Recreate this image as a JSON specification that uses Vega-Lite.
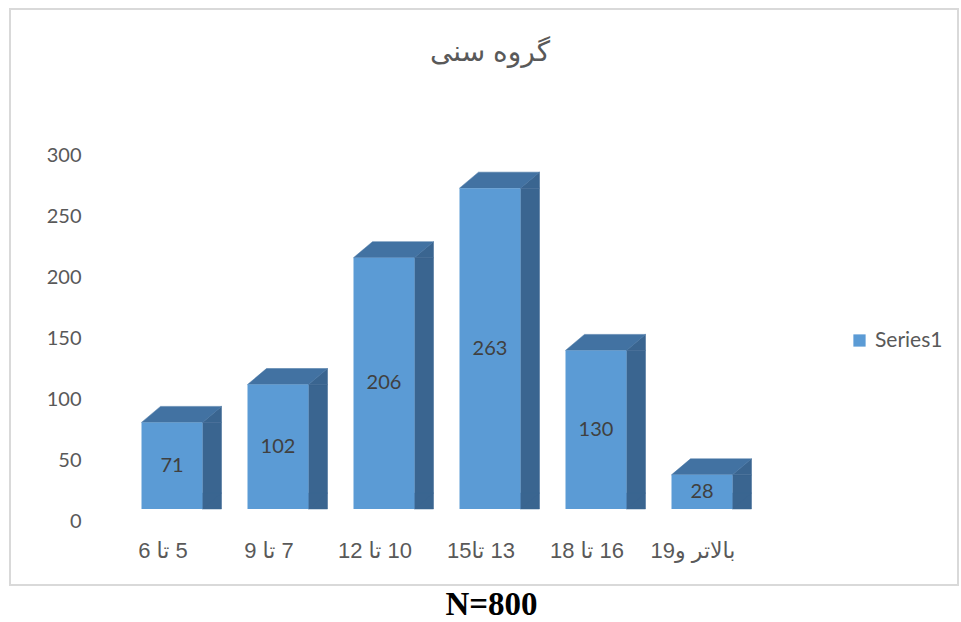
{
  "$schema": "https://vega.github.io/schema/vega-lite/v6.json",
  "width": 948,
  "height": 576,
  "autosize": {"type": "none"},
  "padding": {"left": 10, "top": 9, "right": 3, "bottom": 37},
  "background": "white",
  "view": {"stroke": "#d9d9d9", "strokeWidth": 2},
  "title": {
    "text": "گروه سنی",
    "font": "Liberation Sans, DejaVu Sans",
    "fontSize": 28,
    "fontWeight": "normal",
    "color": "#595959",
    "anchor": "middle",
    "baseline": "middle",
    "offset": -72,
    "dx": 6
  },
  "data": {
    "values": [
      {"group": "\u202B5 تا 6\u202C", "count": 71, "series": "Series1"},
      {"group": "\u202B7 تا 9\u202C", "count": 102, "series": "Series1"},
      {"group": "\u202B10 تا 12\u202C", "count": 206, "series": "Series1"},
      {"group": "\u202B13 تا15\u202C", "count": 263, "series": "Series1"},
      {"group": "\u202B16 تا 18\u202C", "count": 130, "series": "Series1"},
      {"group": "\u202Bبالاتر و19\u202C", "count": 28, "series": "Series1"}
    ]
  },
  "encoding": {
    "x": {
      "field": "group",
      "type": "nominal",
      "sort": null,
      "scale": {"range": [109, 745], "paddingInner": 0.4245, "paddingOuter": 0.2123},
      "axis": {
        "title": "N=800",
        "titleFont": "Liberation Serif",
        "titleFontSize": 33,
        "titleFontWeight": "bold",
        "titleColor": "#000000",
        "titleX": 481,
        "titleY": 71,
        "titleAlign": "center",
        "titleBaseline": "middle",
        "labelFont": "Liberation Sans, DejaVu Sans",
        "labelFontSize": 22,
        "labelColor": "#595959",
        "labelAngle": 0,
        "labelPadding": 7,
        "labelOffset": -9,
        "labelOverlap": false,
        "labelLimit": 300,
        "domain": false,
        "ticks": false,
        "grid": false,
        "offset": -51.5
      }
    }
  },
  "layer": [
    {
      "encoding": {
        "y": {
          "field": "count",
          "type": "quantitative",
          "scale": {"domain": [0, 300], "range": [512, 146], "nice": false, "zero": true},
          "axis": {
            "values": [0, 50, 100, 150, 200, 250, 300],
            "title": null,
            "domain": false,
            "ticks": false,
            "grid": false,
            "labelFont": "Lato",
            "labelFontSize": 20,
            "labelColor": "#595959",
            "labelPadding": 5,
            "offset": -76
          }
        }
      },
      "layer": [
        {
          "mark": {"type": "bar", "width": 19, "xOffset": 40, "yOffset": -12, "y2Offset": -28, "color": "#3a6590", "stroke": "#3a6590", "strokeWidth": 0.5}
        },
        {
          "mark": {"type": "point", "shape": "M 0.61 -0.24 L 0.99 -0.56 L 0.99 -0.24 Z", "size": 10000, "filled": true, "opacity": 1, "color": "#3a6590", "stroke": "#3a6590", "strokeWidth": 0.5}
        },
        {
          "mark": {"type": "point", "shape": "M 0.61 -0.56 L 0.61 -0.24 L 0.99 -0.56 Z", "size": 10000, "filled": true, "opacity": 1, "color": "#3a6590", "stroke": "#3a6590", "strokeWidth": 0.5},
          "encoding": {"y": {"datum": 0, "type": "quantitative"}}
        },
        {
          "mark": {"type": "point", "shape": "M -0.61 -0.24 L 0.61 -0.24 L 0.99 -0.56 L -0.23 -0.56 Z", "size": 10000, "filled": true, "opacity": 1, "color": "#4272a2", "stroke": "#4272a2", "strokeWidth": 0.5}
        },
        {
          "mark": {"type": "bar", "width": 61, "yOffset": -12, "y2Offset": -12},
          "encoding": {
            "color": {
              "field": "series",
              "type": "nominal",
              "scale": {"domain": ["Series1"], "range": ["#5b9bd5"]},
              "legend": {
                "orient": "none",
                "legendX": 839,
                "legendY": 321,
                "title": null,
                "symbolType": "square",
                "symbolSize": 150,
                "symbolStrokeWidth": 0,
                "labelFont": "Lato",
                "labelFontSize": 21,
                "labelColor": "#595959",
                "labelOffset": 5
              }
            }
          }
        }
      ]
    },
    {
      "mark": {"type": "text", "yOffset": -12, "font": "Lato", "fontSize": 20, "color": "#404040"},
      "encoding": {
        "y": {
          "field": "count",
          "type": "quantitative",
          "scale": {"domain": [0, 600], "range": [512, 146], "nice": false, "zero": true},
          "axis": null
        },
        "text": {"field": "count", "type": "quantitative"}
      }
    }
  ],
  "resolve": {"scale": {"y": "independent"}}
}
